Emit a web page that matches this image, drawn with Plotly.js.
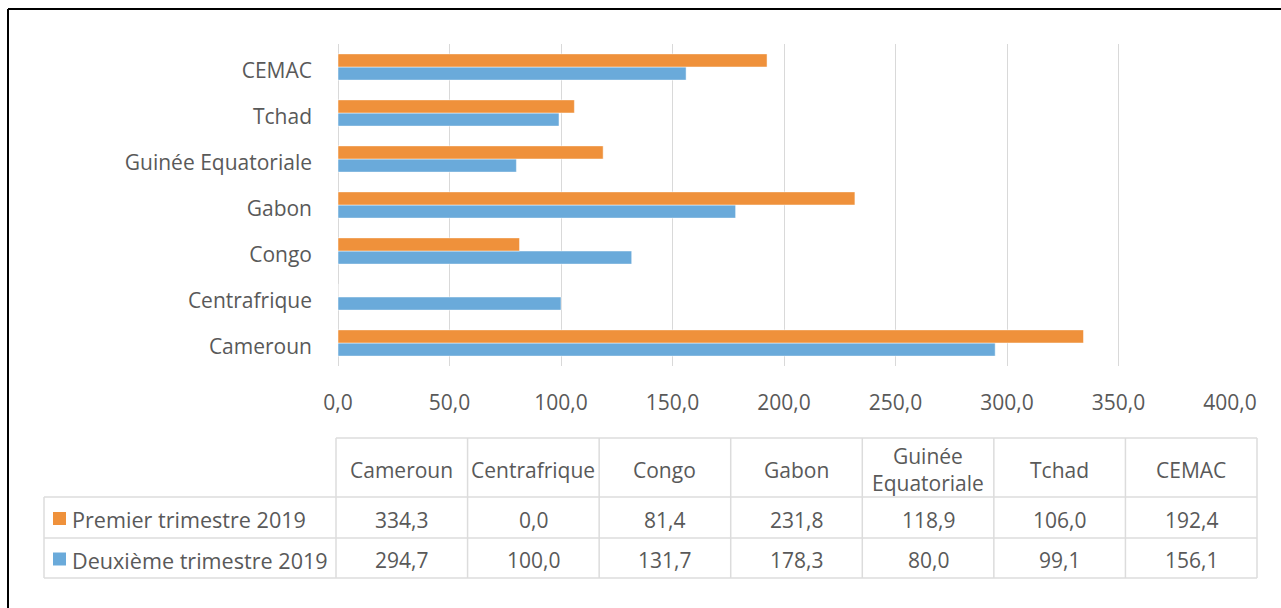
<!DOCTYPE html>
<html><head><meta charset="utf-8">
<script src="https://cdn.plot.ly/plotly-3.0.1.min.js"></script>
<style>html,body{margin:0;padding:0;background:#fff}#chart{width:1281px;height:608px}</style>
</head><body><div id="chart"></div>
<script>
const categories = ['Cameroun','Centrafrique','Congo','Gabon','Guinée Equatoriale','Tchad','CEMAC'];
const premierTrimestre = [334.3, 0.0, 81.4, 231.8, 118.9, 106.0, 192.4];
const deuxiemeTrimestre = [294.7, 100.0, 131.7, 178.3, 80.0, 99.1, 156.1];
const seriesNames = ['Premier trimestre 2019', 'Deuxième trimestre 2019'];
const seriesColors = ['#ef913b', '#6aaada'];

const W = 1281, H = 608;
const PL = 338, PR = 1230, PT = 44, PB = 366;
const px = v => (v - PL) / (PR - PL);
const py = v => (PB - v) / (PB - PT);
const textColor = '#595959';
const fontFam = '"Open Sans", sans-serif';
const fmt = v => v.toFixed(1).replace('.', ',');

const traces = [
  {type:'bar', orientation:'h', name:seriesNames[1], y:categories, x:deuxiemeTrimestre,
   marker:{color:seriesColors[1], line:{color:'rgba(255,255,255,0.6)', width:0.8}}, hoverinfo:'x+y'},
  {type:'bar', orientation:'h', name:seriesNames[0], y:categories, x:premierTrimestre,
   marker:{color:seriesColors[0], line:{color:'rgba(255,255,255,0.6)', width:0.8}}, hoverinfo:'x+y'}
];

const shapes = [];
const annotations = [];
const gridColor = '#dcdcdc';
const line = (x0,y0,x1,y1,color,width) => shapes.push({type:'line', xref:'paper', yref:'paper',
  x0:px(x0), y0:py(y0), x1:px(x1), y1:py(y1), line:{color:color, width:width}, layer:'above'});

// table geometry
const tL = 336, tR = 1257, legL = 44;
const rowTop = 438, rowH1 = 497, rowR1 = 538, rowR2 = 578;
const colW = (tR - tL) / categories.length;
line(tL, rowTop, tR, rowTop, gridColor, 1.5);
[rowH1, rowR1, rowR2].forEach(y => line(legL, y, tR, y, gridColor, 1.5));
line(legL, rowH1, legL, rowR2, gridColor, 1.5);
for (let i = 0; i <= categories.length; i++) {
  const x = tL + i * colW;
  line(x, rowTop, x, rowR2, gridColor, 1.5);
}
const font = {family:fontFam, size:21, color:textColor};
const legFont = {family:fontFam, size:21.6, color:textColor};
categories.forEach((c, i) => {
  const cx = tL + (i + 0.5) * colW;
  const label = c === 'Guinée Equatoriale' ? 'Guinée<br>Equatoriale' : c;
  annotations.push({xref:'paper', yref:'paper', x:px(cx), y:py((rowTop + rowH1) / 2 + 2), text:label,
    showarrow:false, xanchor:'center', yanchor:'middle', font:font});
  annotations.push({xref:'paper', yref:'paper', x:px(cx), y:py((rowH1 + rowR1) / 2 + 2), text:fmt(premierTrimestre[i]),
    showarrow:false, xanchor:'center', yanchor:'middle', font:font});
  annotations.push({xref:'paper', yref:'paper', x:px(cx), y:py((rowR1 + rowR2) / 2 + 2), text:fmt(deuxiemeTrimestre[i]),
    showarrow:false, xanchor:'center', yanchor:'middle', font:font});
});
[[rowH1, rowR1, 0], [rowR1, rowR2, 1]].forEach(([a, b, k]) => {
  const cy = (a + b) / 2 + 1;
  shapes.push({type:'rect', xref:'paper', yref:'paper', x0:px(53), x1:px(66), y0:py(cy - 6.5), y1:py(cy + 6.5),
    fillcolor:seriesColors[k], line:{width:0}, layer:'above'});
  annotations.push({xref:'paper', yref:'paper', x:px(70), y:py(cy + 1), text:seriesNames[k],
    showarrow:false, xanchor:'left', yanchor:'middle', font:legFont});
});
line(8, 9, W, 9, '#000', 2);
line(8, 9, 8, H, '#000', 2);

const layout = {
  width:W, height:H, paper_bgcolor:'#fff', plot_bgcolor:'#fff',
  margin:{l:PL, r:W - PR, t:PT, b:H - PB, pad:0},
  showlegend:false, barmode:'group', bargap:0.43, bargroupgap:0,
  separators:', ',
  xaxis:{range:[0,400], tick0:0, dtick:50, tickformat:'.1f', showgrid:true, gridcolor:'#d9d9d9', gridwidth:1,
    zeroline:true, zerolinecolor:'#d9d9d9', zerolinewidth:1, showline:false, ticks:'', ticklabelstandoff:22,
    tickfont:font, fixedrange:true},
  yaxis:{type:'category', categoryorder:'array', categoryarray:categories, showgrid:false, zeroline:false,
    showline:false, ticks:'', ticklabelstandoff:25, ticklabelshift:4, tickfont:font, fixedrange:true},
  shapes:shapes, annotations:annotations
};
Plotly.newPlot('chart', traces, layout, {displayModeBar:false, staticPlot:true});
</script></body></html>
